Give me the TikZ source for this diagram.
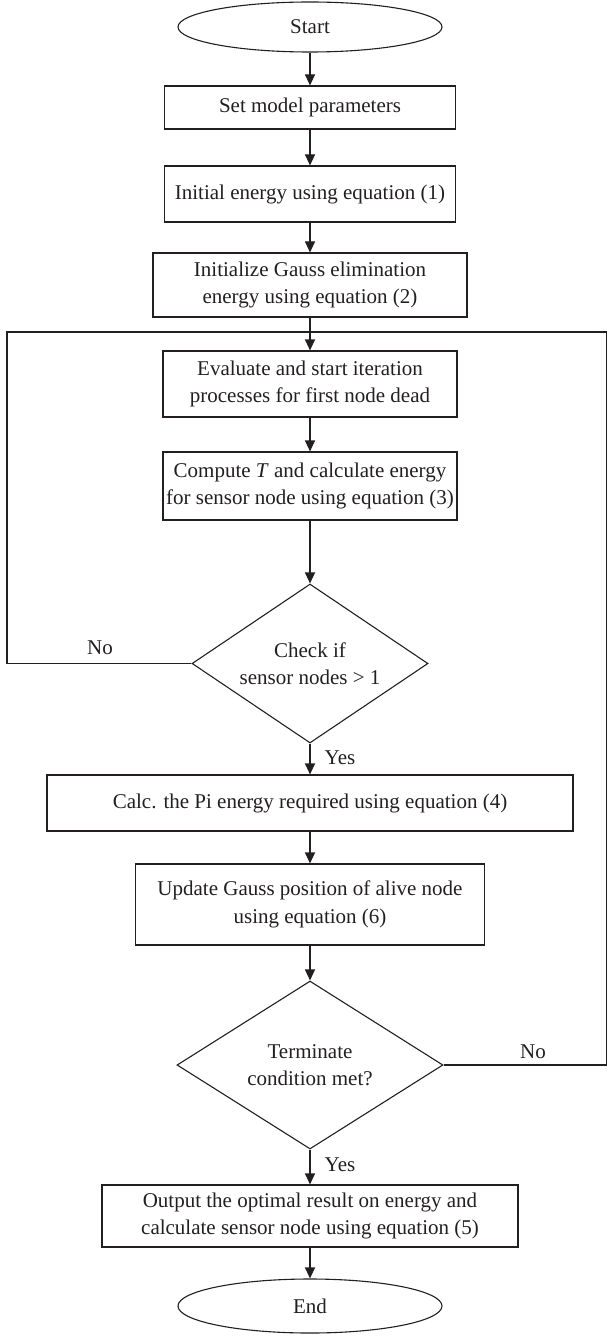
\documentclass[tikz,border=0pt]{standalone}
\usepackage{fontspec}
\setmainfont{Liberation Serif}
\usetikzlibrary{shapes.geometric,arrows.meta}
\definecolor{ink}{HTML}{231F20}
\begin{document}
\begin{tikzpicture}[x=1pt,y=-1pt,
  every node/.style={font=\fontsize{21}{27.5}\selectfont, text=ink},
  line/.style={draw=ink, line width=1.1pt},
  arr/.style={line, -{Triangle[length=11pt,width=10pt]}},
  box/.style={draw=ink, line width=1.1pt, rectangle, align=center, inner sep=0pt},
  term/.style={draw=ink, line width=1.1pt, ellipse, inner sep=0pt, minimum width=264pt},
  dec/.style={draw=ink, line width=1.1pt, diamond, inner sep=0pt, align=center},
  lbl/.style={inner sep=0pt}
]
\useasboundingbox (0,0) rectangle (608,1337);
\node[term, minimum height=50pt] (start) at (310,27) {Start};
\node[box, minimum width=291pt, minimum height=43pt] (set) at (310,107.5) {Set model parameters};
\node[box, minimum width=291pt, minimum height=56pt] (init) at (310,194) {Initial energy using equation (1)};
\node[box, minimum width=314pt, minimum height=64pt] (gauss) at (310,285) {Initialize Gauss elimination\\energy using equation (2)};
\node[box, minimum width=294pt, minimum height=66pt] (eval) at (310,384) {Evaluate and start iteration\\processes for first node dead};
\node[box, minimum width=294pt, minimum height=68pt] (comp) at (310,486) {Compute \textit{T} and calculate energy\\for sensor node using equation (3)};
\node[dec, aspect=1.48, minimum width=236pt, minimum height=159pt] (check) at (310,663.5) {Check if\\sensor nodes > 1};
\node[box, minimum width=526pt, minimum height=56pt] (calc) at (310,803) {Calc. the Pi energy required using equation (4)};
\node[box, minimum width=349pt, minimum height=81pt] (upd) at (310,904.5) {Update Gauss position of alive node\\using equation (6)};
\node[dec, aspect=1.58, minimum width=266pt, minimum height=168pt] (termc) at (310,1065) {Terminate\\condition met?};
\node[box, minimum width=416pt, minimum height=62pt] (out) at (310,1216) {Output the optimal result on energy and\\calculate sensor node using equation (5)};
\node[term, minimum height=54pt] (end) at (310,1306) {End};

\coordinate (tl) at (7,332);
\coordinate (tr) at (606.5,332);

\draw[arr] (start) -- (set);
\draw[arr] (set) -- (init);
\draw[arr] (init) -- (gauss);
\draw[arr] (gauss) -- (eval);
\draw[arr] (eval) -- (comp);
\draw[arr] (comp) -- (check);
\draw[arr] (check) -- (calc);
\draw[arr] (calc) -- (upd);
\draw[arr] (upd) -- (termc);
\draw[arr] (termc) -- (out);
\draw[arr] (out) -- (end);
\draw[line] (check.west) -| (tl) -- (tr);
\draw[line] (termc.east) -| (tr);

\node[lbl] (no1) at (100,648) {No};
\node[lbl] (yes1) at (340,758) {Yes};
\node[lbl] (no2) at (533,1052) {No};
\node[lbl] (yes2) at (340,1165) {Yes};
\end{tikzpicture}
\end{document}
